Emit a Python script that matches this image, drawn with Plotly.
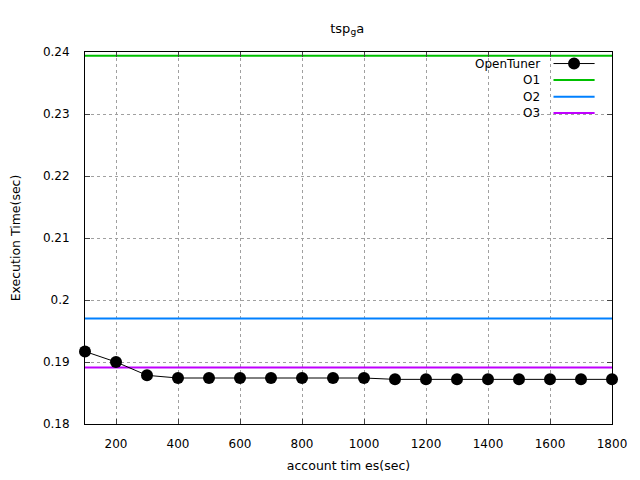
import plotly.graph_objects as go

# data
times = [100, 200, 300, 400, 500, 600, 700, 800, 900, 1000,
         1100, 1200, 1300, 1400, 1500, 1600, 1700, 1800]
opentuner = [0.1917, 0.1900, 0.18785, 0.18742, 0.18742, 0.18742, 0.18742, 0.18742, 0.18742, 0.18742,
             0.18720, 0.18720, 0.18720, 0.18720, 0.18720, 0.18720, 0.18720, 0.18720]
o1 = 0.2394
o2 = 0.1970
o3 = 0.1891

x_ticks = [200, 400, 600, 800, 1000, 1200, 1400, 1600, 1800]
y_ticks = [0.18, 0.19, 0.2, 0.21, 0.22, 0.23, 0.24]
y_labels = ["0.18", "0.19", "0.2", "0.21", "0.22", "0.23", "0.24"]

colors = {"O1": "#00c000", "O2": "#0080ff", "O3": "#c000ff"}
font = "DejaVu Sans, sans-serif"

fig = go.Figure()
for name, val in [("O1", o1), ("O2", o2), ("O3", o3)]:
    fig.add_trace(go.Scatter(x=[times[0], times[-1]], y=[val, val], mode="lines",
                             line=dict(color=colors[name], width=2), name=name,
                             showlegend=False))
fig.add_trace(go.Scatter(x=times, y=opentuner, mode="lines+markers", name="OpenTuner",
                         line=dict(color="black", width=1),
                         marker=dict(color="black", size=12, symbol="circle"),
                         cliponaxis=False, showlegend=False))

# gnuplot-style key: right-aligned text followed by the sample
key_items = [("OpenTuner", "black"), ("O1", colors["O1"]), ("O2", colors["O2"]), ("O3", colors["O3"])]
key_x0, key_x1 = 0.889, 0.967
key_text_x = 0.867
key_y = [0.969, 0.925, 0.880, 0.836]
# white box under the key hides the grid there
shapes = [dict(type="rect", xref="paper", yref="paper", x0=0.72, x1=0.995, y0=0.812, y1=0.985,
               fillcolor="white", line=dict(width=0), layer="between")]
annotations = []
for (label, col), ky in zip(key_items, key_y):
    annotations.append(dict(text=label, x=key_text_x, y=ky, xref="paper", yref="paper",
                            xanchor="right", yanchor="middle", showarrow=False,
                            font=dict(family=font, size=12, color="black")))
    shapes.append(dict(type="line", xref="paper", yref="paper", x0=key_x0, x1=key_x1,
                       y0=ky, y1=ky, line=dict(color=col, width=1 if col == "black" else 2)))
shapes.append(dict(type="circle", xref="paper", yref="paper",
                   x0=0.928 - 0.0114, x1=0.928 + 0.0114,
                   y0=key_y[0] - 0.0161, y1=key_y[0] + 0.0161,
                   fillcolor="black", line=dict(color="black", width=0)))

# page body has an 8px margin, so the figure is offset; margins compensate
fig.update_layout(
    width=640, height=480,
    margin=dict(l=77, r=36, t=44, b=64, pad=0),
    paper_bgcolor="white", plot_bgcolor="white",
    font=dict(family=font, size=12, color="black"),
    title=dict(text="tsp<sub>g</sub>a", x=0.53, xanchor="center", y=0.958, yanchor="middle",
               automargin=False, font=dict(family=font, size=13)),
    shapes=shapes, annotations=annotations,
    showlegend=False,
)
fig.update_xaxes(range=[100, 1800], tickvals=x_ticks, ticks="inside", ticklen=5,
                 showline=True, linecolor="black", linewidth=1, mirror="ticks",
                 showgrid=True, gridcolor="#a0a0a0", griddash="dot", gridwidth=1,
                 zeroline=False, automargin=False, ticklabelstandoff=9,
                 title=dict(text="account tim es(sec)", standoff=10, font=dict(size=12.5)),
                 tickfont=dict(size=12))
fig.update_yaxes(range=[0.18, 0.24], tickvals=y_ticks, ticktext=y_labels, ticks="inside", ticklen=5,
                 showline=True, linecolor="black", linewidth=1, mirror="ticks",
                 showgrid=True, gridcolor="#a0a0a0", griddash="dot", gridwidth=1,
                 zeroline=False, automargin=False, ticklabelstandoff=12,
                 title=dict(text="Execution Time(sec)", standoff=21, font=dict(size=12.5)),
                 tickfont=dict(size=12))

fig.write_html("out.html")
